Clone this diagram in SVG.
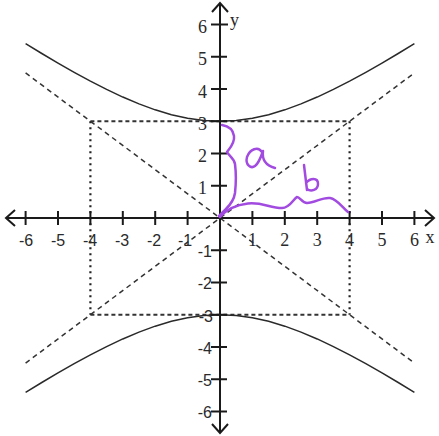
<svg xmlns="http://www.w3.org/2000/svg" width="439" height="436" viewBox="0 0 439 436">
<style>
.ax{stroke:#1a1a1a;stroke-width:2;fill:none}
.tk{stroke:#1a1a1a;stroke-width:2}
.hyp{stroke:#2a2a2a;stroke-width:1.5;fill:none}
.asy{stroke:#333;stroke-width:1.5;stroke-dasharray:5 4;fill:none}
.rh{stroke:#333;stroke-width:1.8;stroke-dasharray:4 3;fill:none}
.rv{stroke:#222;stroke-width:2.2;stroke-dasharray:2 4;fill:none}
.pen{stroke:#a24be0;stroke-width:2.5;fill:none;stroke-linecap:round;stroke-linejoin:round}
.s{font-family:"Liberation Serif",serif;font-size:18px;fill:#2a2a2a}
.n{font-family:"Liberation Sans",sans-serif;font-size:16px;fill:#2a2a2a}
</style>
<rect width="439" height="436" fill="#fff"/>
<g id="rectangle">
<line class="rh" x1="90.4" y1="121.25" x2="349.6" y2="121.25"/>
<line class="rh" x1="90.4" y1="314.75" x2="349.6" y2="314.75"/>
<line class="rv" x1="90.4" y1="121.25" x2="90.4" y2="314.75"/>
<line class="rv" x1="349.6" y1="121.25" x2="349.6" y2="314.75"/>
</g>
<g id="asymptotes">
<line class="asy" x1="25.6" y1="72.9" x2="414.4" y2="363.1"/>
<line class="asy" x1="25.6" y1="363.1" x2="414.4" y2="72.9"/>
</g>
<g id="hyperbola">
<polyline class="hyp" points="25.6,43.58 41.8,53.51 58,63.13 74.2,72.37 90.4,81.18 106.6,89.44 122.8,97.06 139,103.91 155.2,109.83 171.4,114.67 187.6,118.27 203.8,120.5 220,121.25 236.2,120.5 252.4,118.27 268.6,114.67 284.8,109.83 301,103.91 317.2,97.06 333.4,89.44 349.6,81.18 365.8,72.37 382,63.13 398.2,53.51 414.4,43.58"/>
<polyline class="hyp" points="25.6,392.42 41.8,382.49 58,372.87 74.2,363.63 90.4,354.82 106.6,346.56 122.8,338.94 139,332.09 155.2,326.17 171.4,321.33 187.6,317.73 203.8,315.5 220,314.75 236.2,315.5 252.4,317.73 268.6,321.33 284.8,326.17 301,332.09 317.2,338.94 333.4,346.56 349.6,354.82 365.8,363.63 382,372.87 398.2,382.49 414.4,392.42"/>
</g>
<g id="axes">
<line class="ax" x1="6" y1="218" x2="434" y2="218"/>
<line class="ax" x1="220" y1="3" x2="220" y2="433"/>
<polyline class="ax" points="15,210 6,218 15,226"/>
<polyline class="ax" points="425,210 434,218 425,226"/>
<polyline class="ax" points="212,12 220,3 228,12"/>
<polyline class="ax" points="212,424 220,433 228,424"/>
<g id="x-ticks">
<line class="tk" x1="25.6" y1="211" x2="25.6" y2="225"/>
<line class="tk" x1="58" y1="211" x2="58" y2="225"/>
<line class="tk" x1="90.4" y1="211" x2="90.4" y2="225"/>
<line class="tk" x1="122.8" y1="211" x2="122.8" y2="225"/>
<line class="tk" x1="155.2" y1="211" x2="155.2" y2="225"/>
<line class="tk" x1="187.6" y1="211" x2="187.6" y2="225"/>
<line class="tk" x1="252.4" y1="211" x2="252.4" y2="225"/>
<line class="tk" x1="284.8" y1="211" x2="284.8" y2="225"/>
<line class="tk" x1="317.2" y1="211" x2="317.2" y2="225"/>
<line class="tk" x1="349.6" y1="211" x2="349.6" y2="225"/>
<line class="tk" x1="382" y1="211" x2="382" y2="225"/>
<line class="tk" x1="414.4" y1="211" x2="414.4" y2="225"/>
</g>
<g id="y-ticks">
<line class="tk" x1="211" y1="24.5" x2="228" y2="24.5"/>
<line class="tk" x1="211" y1="56.75" x2="227" y2="56.75"/>
<line class="tk" x1="211" y1="89" x2="227" y2="89"/>
<line class="tk" x1="211" y1="121.25" x2="227" y2="121.25"/>
<line class="tk" x1="211" y1="153.5" x2="227" y2="153.5"/>
<line class="tk" x1="211" y1="185.75" x2="227" y2="185.75"/>
<line class="tk" x1="211" y1="250.25" x2="227" y2="250.25"/>
<line class="tk" x1="211" y1="282.5" x2="227" y2="282.5"/>
<line class="tk" x1="211" y1="314.75" x2="227" y2="314.75"/>
<line class="tk" x1="211" y1="347" x2="227" y2="347"/>
<line class="tk" x1="211" y1="379.25" x2="227" y2="379.25"/>
<line class="tk" x1="211" y1="411.5" x2="227" y2="411.5"/>
</g>
</g>
<g id="y-labels">
<text class="s" x="207" y="33" text-anchor="end">6</text>
<text class="s" x="207" y="65" text-anchor="end">5</text>
<text class="s" x="207" y="97.5" text-anchor="end">4</text>
<text class="s" x="207" y="130" text-anchor="end">3</text>
<text class="s" x="207" y="162" text-anchor="end">2</text>
<text class="s" x="207" y="194" text-anchor="end">1</text>
<text class="n" x="212" y="257" text-anchor="end">-1</text>
<text class="n" x="212" y="289" text-anchor="end">-2</text>
<text class="n" x="213" y="321.5" text-anchor="end">-3</text>
<text class="n" x="212" y="354" text-anchor="end">-4</text>
<text class="n" x="212" y="386" text-anchor="end">-5</text>
<text class="n" x="212" y="418" text-anchor="end">-6</text>
<text class="s" x="230" y="26">y</text>
</g>
<g id="x-labels">
<text class="n" x="26" y="246" text-anchor="middle">-6</text>
<text class="n" x="58" y="246" text-anchor="middle">-5</text>
<text class="n" x="90" y="246" text-anchor="middle">-4</text>
<text class="n" x="122" y="246" text-anchor="middle">-3</text>
<text class="n" x="154" y="246" text-anchor="middle">-2</text>
<text class="n" x="185" y="246" text-anchor="middle">-1</text>
<text class="s" x="252.4" y="246" text-anchor="middle">1</text>
<text class="s" x="284.8" y="246" text-anchor="middle">2</text>
<text class="s" x="317.2" y="246" text-anchor="middle">3</text>
<text class="s" x="349.6" y="246" text-anchor="middle">4</text>
<text class="s" x="382" y="246" text-anchor="middle">5</text>
<text class="s" x="414.4" y="246" text-anchor="middle">6</text>
<text class="s" x="430" y="243" text-anchor="middle">x</text>
</g>
<g id="annotations">
<path class="pen" d="M222,125 C228,126 233,129 234,136 C235,143 230,148 227,152 C229,156 234,158 235,164 C236,172 236,184 235,193 C234,200 231,204 226,209 C223,212 221,214 219,216"/>
<path class="pen" d="M262,152 C258,146 250,149 247,157 C245,165 251,169 255,166 C259,163 261,157 263,151 C262,158 264,165 275,168"/>
<path class="pen" d="M304,165 C305,173 306,182 307,190 M306,183 C310,178 318,177 318,184 C318,190 311,192 307,189"/>
<path class="pen" d="M220,217 C226,210 235,205 248,203.5 C262,202 270,208 282,208 C290,208 294,198 297,197 C300,197 302,203 307,203 C315,203 322,197 330,198 C337,199 342,207 348,212"/>
</g>
</svg>
